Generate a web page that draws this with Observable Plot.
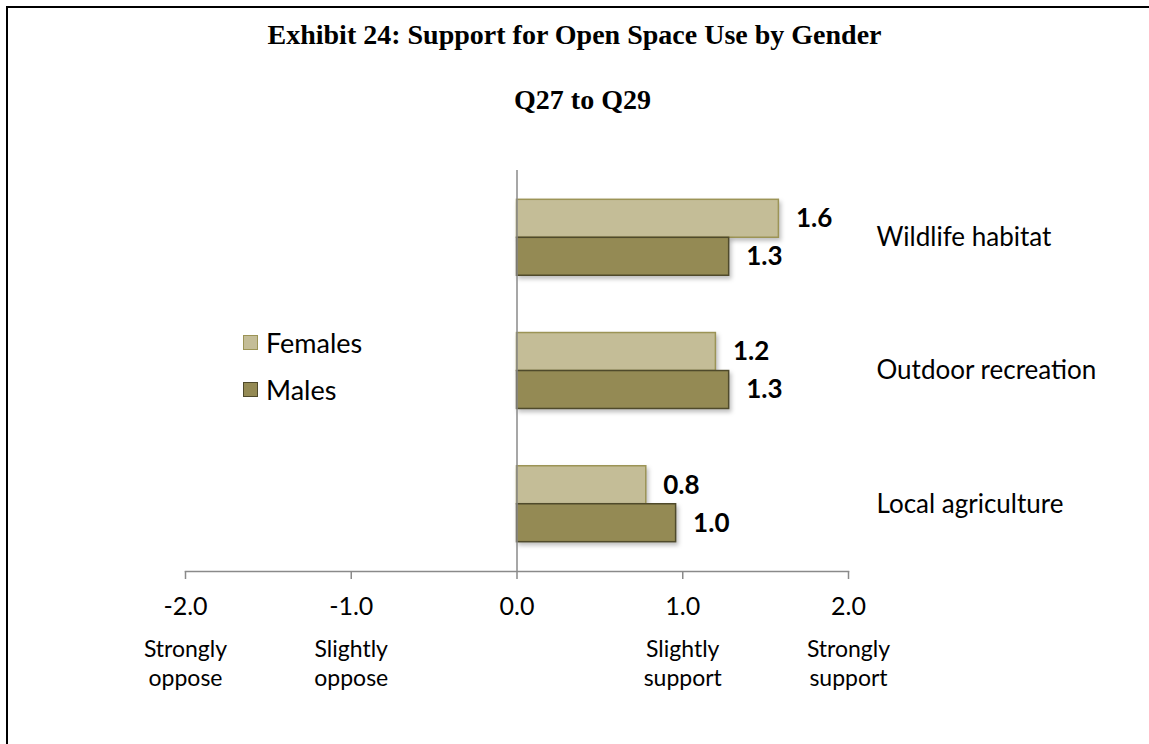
<!DOCTYPE html>
<html>
<head>
<meta charset="utf-8">
<script src="https://cdn.jsdelivr.net/npm/d3@7"></script>
<script src="https://cdn.jsdelivr.net/npm/@observablehq/plot@0.6"></script>
<style>
  html, body { margin: 0; padding: 0; background: #fff; }
  #wrap { position: relative; width: 1149px; height: 744px; overflow: hidden; font-family: Lato, "Open Sans", sans-serif; }
  #frame { position: absolute; left: 6px; top: 6px; width: 1200px; height: 800px; border-top: 2px solid #000; border-left: 2px solid #000; pointer-events: none; }
  #titles { height: 140px; font-family: "Liberation Serif", "DejaVu Serif", serif; font-weight: bold; color: #000; text-align: center; }
  #t1 { position: absolute; left: 0; width: 1149px; top: 19px; font-size: 28px; line-height: 32px; }
  #t2 { position: absolute; left: 8px; width: 1149px; top: 84px; font-size: 28px; line-height: 32px; }
  #legend { position: absolute; left: 243px; top: 326px; font-size: 27px; color: #000; }
  .item { position: absolute; left: 0; white-space: nowrap; display: flex; align-items: center; height: 32px; }
  .sw { width: 15px; height: 15px; box-sizing: border-box; border: 1.5px solid; margin-right: 8px; }
  .bars rect { filter: drop-shadow(2px 3px 2px rgba(0,0,0,0.25)); }
</style>
</head>
<body>
<div id="wrap">
  <div id="titles">
    <div id="t1"></div>
    <div id="t2"></div>
  </div>
  <div id="chart"></div>
  <div id="legend"></div>
  <div id="frame"></div>
</div>
<script>
const title = "Exhibit 24: Support for Open Space Use by Gender";
const subtitle = "Q27 to Q29";
const categories = ["Wildlife habitat", "Outdoor recreation", "Local agriculture"];
const genders = ["Females", "Males"];
const femaleValues = [1.58, 1.20, 0.78];
const maleValues = [1.28, 1.28, 0.96];
const tickValues = [-2, -1, 0, 1, 2];
const tickLabels = ["-2.0", "-1.0", "0.0", "1.0", "2.0"];
const tickDescriptors = ["Strongly\noppose", "Slightly\noppose", "", "Slightly\nsupport", "Strongly\nsupport"];
const colors = { Females: { fill: "#c4bd97", stroke: "#9c9456" }, Males: { fill: "#948a54", stroke: "#4f4a2b" } };

document.getElementById("t1").textContent = title;
document.getElementById("t2").textContent = subtitle;

const females = categories.map((c, i) => ({ category: c, gender: "Females", value: femaleValues[i] }));
const males = categories.map((c, i) => ({ category: c, gender: "Males", value: maleValues[i] }));
const descriptors = tickValues.map((v, i) => ({ x: v, text: tickDescriptors[i] }));
const fmt = d3.format(".1f");

const half = 38;
const chart = Plot.plot({
  width: 1149,
  height: 604,
  marginTop: 30,
  marginBottom: 173,
  marginLeft: 185,
  marginRight: 301,
  style: { fontFamily: "Lato, 'Open Sans', sans-serif", color: "#000", background: "transparent" },
  x: { domain: [-2, 2] },
  y: { domain: categories, paddingInner: 0.43, paddingOuter: 0.22, round: false },
  marks: [
    Plot.barX(females, { x: "value", y: "category", insetBottom: half, fill: colors.Females.fill, stroke: colors.Females.stroke, strokeWidth: 1.5, className: "bars" }),
    Plot.barX(males, { x: "value", y: "category", insetTop: half, fill: colors.Males.fill, stroke: colors.Males.stroke, strokeWidth: 1.5, className: "bars" }),
    Plot.ruleX([0], { stroke: "#8a8a8a", strokeWidth: 1.5 }),
    Plot.frame({ anchor: "bottom", stroke: "#8a8a8a", strokeWidth: 1.5 }),
    Plot.axisX({ ticks: tickValues, tickFormat: (d) => tickLabels[tickValues.indexOf(d)], tickSize: 8, tickPadding: 18, fontSize: 25, stroke: "#8a8a8a", strokeWidth: 1.5, label: null }),
    Plot.text(descriptors, { x: "x", text: "text", frameAnchor: "bottom", lineAnchor: "middle", dy: 91, lineHeight: 1.26, fontSize: 23, fill: "#000" }),
    Plot.axisY({ anchor: "right", tickSize: 0, tickPadding: 28, fontSize: 26, label: null }),
    Plot.text(females, { x: "value", y: "category", text: (d) => fmt(d.value), dy: -19, dx: 17, textAnchor: "start", fontWeight: "bold", fontSize: 26, fill: "#000" }),
    Plot.text(males, { x: "value", y: "category", text: (d) => fmt(d.value), dy: 19, dx: 17, textAnchor: "start", fontWeight: "bold", fontSize: 26, fill: "#000" })
  ]
});
document.getElementById("chart").appendChild(chart);

const legend = document.getElementById("legend");
genders.forEach((g, i) => {
  const item = document.createElement("div");
  item.className = "item";
  item.style.top = (i * 47) + "px";
  const sw = document.createElement("div");
  sw.className = "sw";
  sw.style.background = colors[g].fill;
  sw.style.borderColor = colors[g].stroke;
  const label = document.createElement("span");
  label.textContent = g;
  item.appendChild(sw);
  item.appendChild(label);
  legend.appendChild(item);
});
</script>
</body>
</html>
